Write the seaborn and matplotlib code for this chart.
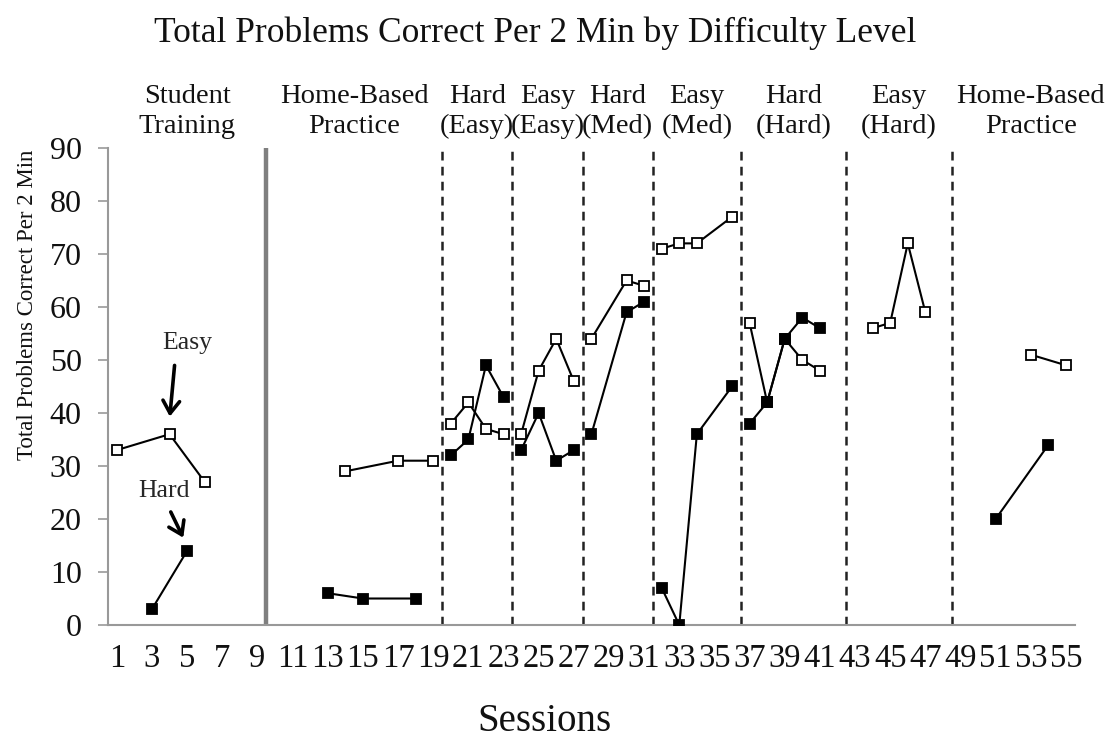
import numpy as np
import pandas as pd
import matplotlib
matplotlib.use("Agg")
import matplotlib.pyplot as plt
import seaborn as sns

# ---- data ----
easy_sessions = [1, 4, 6, 14, 17, 19, 20, 21, 22, 23, 24, 25, 26, 27, 28, 30, 31,
                 32, 33, 34, 36, 37, 38, 39, 40, 41, 44, 45, 46, 47, 53, 55]
easy_values = [33, 36, 27, 29, 31, 31, 38, 42, 37, 36, 36, 48, 54, 46, 54, 65, 64,
               71, 72, 72, 77, 57, 42, 54, 50, 48, 56, 57, 72, 59, 51, 49]
hard_sessions = [3, 5, 13, 15, 18, 20, 21, 22, 23, 24, 25, 26, 27, 28, 30, 31,
                 32, 33, 34, 36, 37, 38, 39, 40, 41, 51, 54]
hard_values = [3, 14, 6, 5, 5, 32, 35, 49, 43, 33, 40, 31, 33, 36, 59, 61,
               7, 0, 36, 45, 38, 42, 54, 58, 56, 20, 34]
phase_bounds = [0.5, 9.5, 19.5, 23.5, 27.5, 31.5, 36.5, 42.5, 48.5, 55.5]
phase_labels = ["Student\nTraining", "Home-Based\nPractice", "Hard\n(Easy)", "Easy\n(Easy)",
                "Hard\n(Med)", "Easy\n(Med)", "Hard\n(Hard)", "Easy\n(Hard)", "Home-Based\nPractice"]
phase_label_x = [5, 14.5, 21.5, 25.5, 29.5, 34, 39.5, 45.5, 53]
tick_labels = [str(i) for i in range(1, 56, 2)]

easy = pd.DataFrame({"Session": easy_sessions, "Value": easy_values, "Series": "Easy"})
hard = pd.DataFrame({"Session": hard_sessions, "Value": hard_values, "Series": "Hard"})
df = pd.concat([easy, hard], ignore_index=True)
df["Phase"] = np.digitize(df["Session"], phase_bounds)

sns.set_theme(style="white")
plt.rcParams["font.family"] = ["Liberation Serif", "DejaVu Serif"]

fig = plt.figure(figsize=(11.08, 7.38), dpi=100)
ax = fig.add_axes([0.0975, 0.1531, 0.8725, 0.6464])

face = {"Easy": "white", "Hard": "black"}
for (series, phase), sub in df.groupby(["Series", "Phase"]):
    sns.lineplot(data=sub, x="Session", y="Value", ax=ax, color="black", lw=1.5,
                 marker="s", markersize=7.8, markerfacecolor=face[series],
                 markeredgecolor="black", markeredgewidth=1.3, estimator=None,
                 sort=True, legend=False, zorder=3 if series == "Easy" else 4)

# phase lines
ax.axvline(phase_bounds[1], color="#7f7f7f", lw=3.2, zorder=2)
for b in phase_bounds[2:-1]:
    ax.axvline(b, color="#222222", lw=1.8, ls=(0, (3.5, 2.5)), zorder=2)

for x, lab in zip(phase_label_x, phase_labels):
    ax.text(x, 91.6, lab, ha="center", va="bottom", fontsize=20.5, linespacing=1.3,
            color="#111111")

# arrows
arrow_kw = dict(arrowstyle="->,head_length=0.75,head_width=0.5", color="black", lw=2.6)
ax.annotate("", xy=(4.0, 38.8), xytext=(4.3, 49.5), arrowprops=arrow_kw)
ax.text(5.0, 53.2, "Easy", ha="center", va="center", fontsize=18.5)
ax.annotate("", xy=(4.85, 16.0), xytext=(4.0, 21.8), arrowprops=arrow_kw)
ax.text(3.7, 25.2, "Hard", ha="center", va="center", fontsize=18.5)

ax.set_xlim(0.5, 55.5)
ax.set_ylim(0, 90)
ax.set_xticks(range(1, 56, 2))
ax.set_xticklabels(tick_labels)
ax.set_xticks(np.arange(0.5, 56, 1), minor=True)
ax.set_yticks(range(0, 91, 10))
ax.tick_params(axis="x", which="major", length=0, labelsize=23.5, pad=13, colors="#111111")
ax.tick_params(axis="x", which="minor", length=6, width=1.2, color="#999999", direction="out")
ax.tick_params(axis="y", which="major", length=7, width=1.2, color="#999999", labelsize=23,
               pad=12, direction="out", labelcolor="#111111")
ax.tick_params(bottom=True, left=True)
for s in ["top", "right"]:
    ax.spines[s].set_visible(False)
for s in ["left", "bottom"]:
    ax.spines[s].set_color("#999999")
    ax.spines[s].set_linewidth(1.5)

ax.set_xlabel("Sessions", fontsize=28, color="#111111")
ax.xaxis.set_label_coords(0.451, -0.163)
ax.set_ylabel("Total Problems Correct Per 2 Min", fontsize=16.5, color="#111111")
ax.yaxis.set_label_coords(-0.072, 0.671)
fig.suptitle("Total Problems Correct Per 2 Min by Difficulty Level", fontsize=25.5,
             x=0.483, y=0.978, color="#111111")

fig.savefig("out.png", dpi=100)
